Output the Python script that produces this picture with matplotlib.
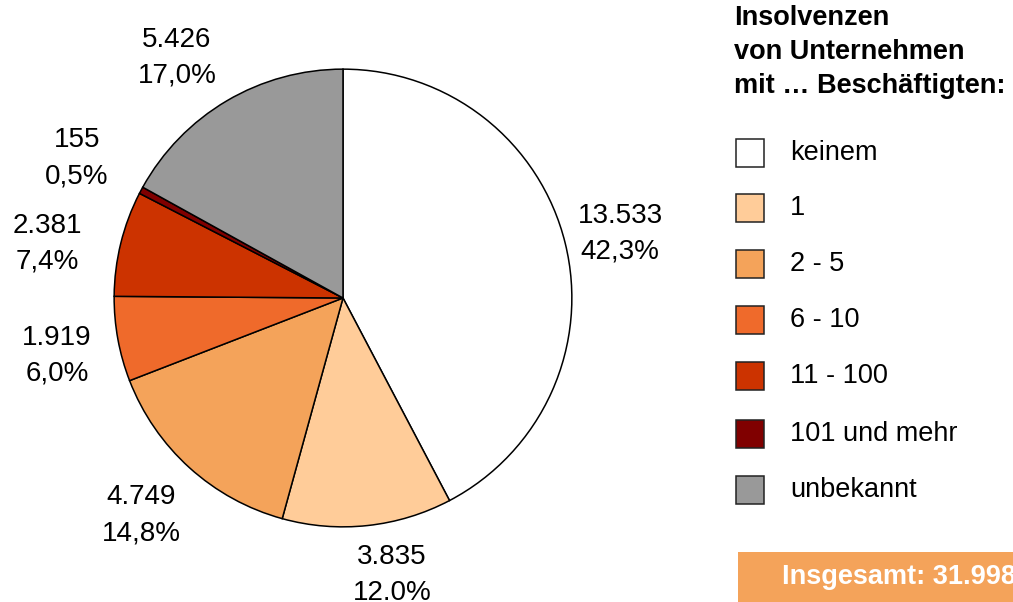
import matplotlib
matplotlib.use("Agg")
import matplotlib.pyplot as plt
from matplotlib.patches import Rectangle

plt.rcParams['font.family'] = ['Liberation Sans', 'DejaVu Sans']

# data
categories = ['keinem', '1', '2 - 5', '6 - 10', '11 - 100', '101 und mehr', 'unbekannt']
values = [13533, 3835, 4749, 1919, 2381, 155, 5426]
count_labels = ['13.533', '3.835', '4.749', '1.919', '2.381', '155', '5.426']
pct_labels = ['42,3%', '12.0%', '14,8%', '6,0%', '7,4%', '0,5%', '17,0%']
colors = ['#FFFFFF', '#FFCC99', '#F4A35A', '#EF6A2B', '#CC3300', '#800000', '#999999']
total_label = 'Insgesamt: 31.998'

W, H = 1013, 602
fig = plt.figure(figsize=(W / 100, H / 100), dpi=100)

def fx(px):
    return px / W

def fy(py):
    return 1 - py / H

# pie axes: center (343, 298), radius 230 px
cx, cy, r = 343, 298, 230
ax = fig.add_axes([fx(cx - r), fy(cy + r), 2 * r / W, 2 * r / H])
ax.pie(values, colors=colors, startangle=90, counterclock=False, radius=1,
       wedgeprops=dict(edgecolor='black', linewidth=1.1))
ax.set_xlim(-1.005, 1.005)
ax.set_ylim(-1.005, 1.005)
ax.set_aspect('equal')
ax.axis('off')

# slice labels (pixel centres of the two-line blocks)
label_pos = [(620, 234), (392, 575), (141, 515), (57, 356), (47, 244), (77, 158), (177, 58)]
for (px, py), c, p in zip(label_pos, count_labels, pct_labels):
    fig.text(fx(px), fy(py), c + '\n' + p, ha='center', va='center',
             fontsize=20, linespacing=1.5, color='black')

# legend title
fig.text(fx(734), fy(52), 'Insolvenzen\nvon Unternehmen\nmit … Beschäftigten:',
         ha='left', va='center', fontsize=19.5, fontweight='bold', linespacing=1.38)

# legend entries
leg_y = [153, 208, 264, 320, 376, 434, 490]
box = 28
for yy, col, cat in zip(leg_y, colors, categories):
    fig.add_artist(Rectangle((fx(736), fy(yy + box / 2)), box / W, box / H,
                             facecolor=col, edgecolor='#222222', linewidth=1.1,
                             transform=fig.transFigure))
    fig.text(fx(790), fy(yy), cat, ha='left', va='center', fontsize=19.5)

# total box
fig.add_artist(Rectangle((fx(738), 0), (W - 738) / W, (H - 552) / H,
                         facecolor='#F4A35A', edgecolor='none',
                         transform=fig.transFigure))
fig.text(fx(782), fy(577), total_label, ha='left', va='center',
         fontsize=19.5, fontweight='bold', color='white')

fig.savefig('out.png', dpi=100)
